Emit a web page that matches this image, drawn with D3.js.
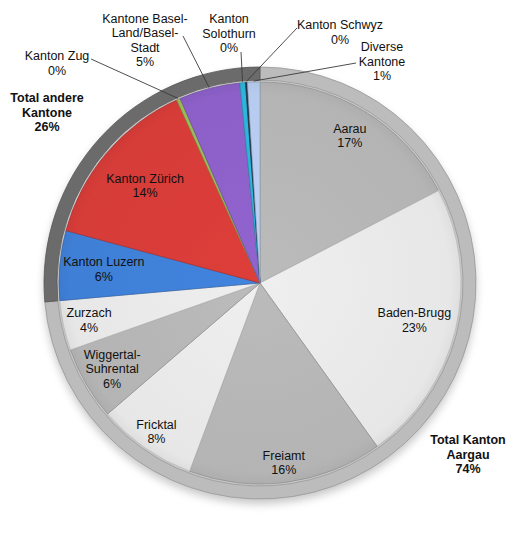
<!DOCTYPE html>
<html>
<head>
<meta charset="utf-8">
<script src="https://cdn.jsdelivr.net/npm/d3@7"></script>
<style>
  body { margin: 0; background: #fff; }
  text { font-family: "Liberation Sans", Arial, sans-serif; fill: #111; }
</style>
</head>
<body>
<script>
// inner pie, clockwise from 12 o'clock
var categories = ['Aarau', 'Baden-Brugg', 'Freiamt', 'Fricktal', 'Wiggertal-\nSuhrental', 'Zurzach',
  'Kanton Luzern', 'Kanton Zürich', 'Kanton Zug', 'Kantone Basel-\nLand/Basel-\nStadt',
  'Kanton\nSolothurn', 'Kanton Schwyz', 'Diverse\nKantone'];
var values = [17.4, 22.7, 15.6, 8.0, 5.9, 4.0, 5.6, 14.0, 0.3, 4.9, 0.45, 0.15, 1.0];
var colors = ['#b4b4b4', '#e7e7e7', '#b4b4b4', '#e7e7e7', '#b4b4b4', '#e7e7e7',
  '#3f7fd6', '#d63c38', '#9bbb59', '#8c60c8', '#2db4da', '#24384f', '#b6cbee'];

// outer ring
var groups = ['Total Kanton\nAargau', 'Total andere\nKantone'];
var groupValues = [73.6, 26.4];
var groupColors = ['#bcbcbc', '#6b6b6b'];

var width = 517, height = 543;
var cx = 260, cy = 283;
var R = 201, ringIn = 203, ringOut = 216;

// label layout (radius factor for inside labels, anchor spots for callouts)
var insideR = [0.86, 0.79, 0.9, 0.9, 0.85, 0.87, 0.78, 0.75];
var callouts = {
  8: { x: -203, y: -220, lx: -169, ly: -224 },
  9: { x: -115, y: -243, lx: -77, ly: -247 },
  10: { x: -31, y: -250, lx: -19, ly: -231 },
  11: { x: 80, y: -251, lx: 37, ly: -255 },
  12: { x: 122, y: -222, lx: 96, ly: -220 }
};
var groupLabelPos = [{ x: 208, y: 171 }, { x: -213, y: -171 }];

var total = d3.sum(values);
var pct = function(v, t) { return Math.round(v / t * 100) + '%'; };

var svg = d3.select('body').append('svg').attr('width', width).attr('height', height);
var defs = svg.append('defs');
var f = defs.append('filter').attr('id', 'shadow').attr('x', '-20%').attr('y', '-20%')
  .attr('width', '140%').attr('height', '140%');
f.append('feGaussianBlur').attr('stdDeviation', 4);

// soft bevel gradient for each colour
colors.concat(groupColors).forEach(function(c, i) {
  var g = defs.append('radialGradient').attr('id', 'g' + i)
    .attr('gradientUnits', 'userSpaceOnUse').attr('cx', 0).attr('cy', 0).attr('r', ringOut);
  g.append('stop').attr('offset', '0%').attr('stop-color', d3.color(c).brighter(0.1));
  g.append('stop').attr('offset', '88%').attr('stop-color', c);
  g.append('stop').attr('offset', '100%').attr('stop-color', d3.color(c).darker(0.25));
});

var root = svg.append('g').attr('transform', 'translate(' + cx + ',' + cy + ')');

root.append('circle').attr('cx', 0).attr('cy', 5).attr('r', ringOut)
  .attr('fill', '#9a9a9a').attr('opacity', 0.55).attr('filter', 'url(#shadow)');

var pie = d3.pie().sort(null).value(function(d) { return d; });

// ring
var ringArc = d3.arc().innerRadius(ringIn).outerRadius(ringOut);
root.selectAll('path.ring').data(pie(groupValues)).enter().append('path')
  .attr('class', 'ring')
  .attr('d', ringArc)
  .attr('fill', function(d, i) { return groupColors[i]; })
  .attr('stroke', function(d, i) { return d3.color(groupColors[i]).darker(0.6); })
  .attr('stroke-width', 0.8);

// slices
var arcs = pie(values);
var arc = d3.arc().innerRadius(0).outerRadius(R);
root.selectAll('path.slice').data(arcs).enter().append('path')
  .attr('class', 'slice')
  .attr('d', arc)
  .attr('fill', function(d, i) { return 'url(#g' + i + ')'; })
  .attr('stroke', function(d, i) { return d3.color(colors[i]).darker(0.7); })
  .attr('stroke-width', 0.7)
  .attr('stroke-linejoin', 'round');

var lineH = 14.5;
var addText = function(x, y, lines, bold) {
  var t = root.append('text').attr('text-anchor', 'middle')
    .attr('font-size', '12.5px')
    .attr('font-weight', bold ? 'bold' : 'normal');
  var top = y - (lines.length - 1) * lineH / 2;
  lines.forEach(function(s, k) {
    t.append('tspan').attr('x', x).attr('y', top + k * lineH + 4.5).text(s);
  });
};

// labels
arcs.forEach(function(d, i) {
  var lines = categories[i].split('\n').concat([pct(values[i], total)]);
  if (callouts[i]) {
    var c = callouts[i];
    var a = (d.startAngle + d.endAngle) / 2;
    var ex = Math.sin(a) * (R + 1), ey = -Math.cos(a) * (R + 1);
    root.append('polyline')
      .attr('points', [[c.lx, c.ly], [ex, ey]].join(' '))
      .attr('fill', 'none').attr('stroke', '#3a3a3a').attr('stroke-width', 0.9);
    addText(c.x, c.y, lines, false);
  } else {
    var la = d3.arc().innerRadius(R * insideR[i]).outerRadius(R * insideR[i]);
    var p = la.centroid(d);
    addText(p[0], p[1], lines, false);
  }
});

var gTotal = d3.sum(groupValues);
groupLabelPos.forEach(function(p, i) {
  addText(p.x, p.y, groups[i].split('\n').concat([pct(groupValues[i], gTotal)]), true);
});
</script>
</body>
</html>
